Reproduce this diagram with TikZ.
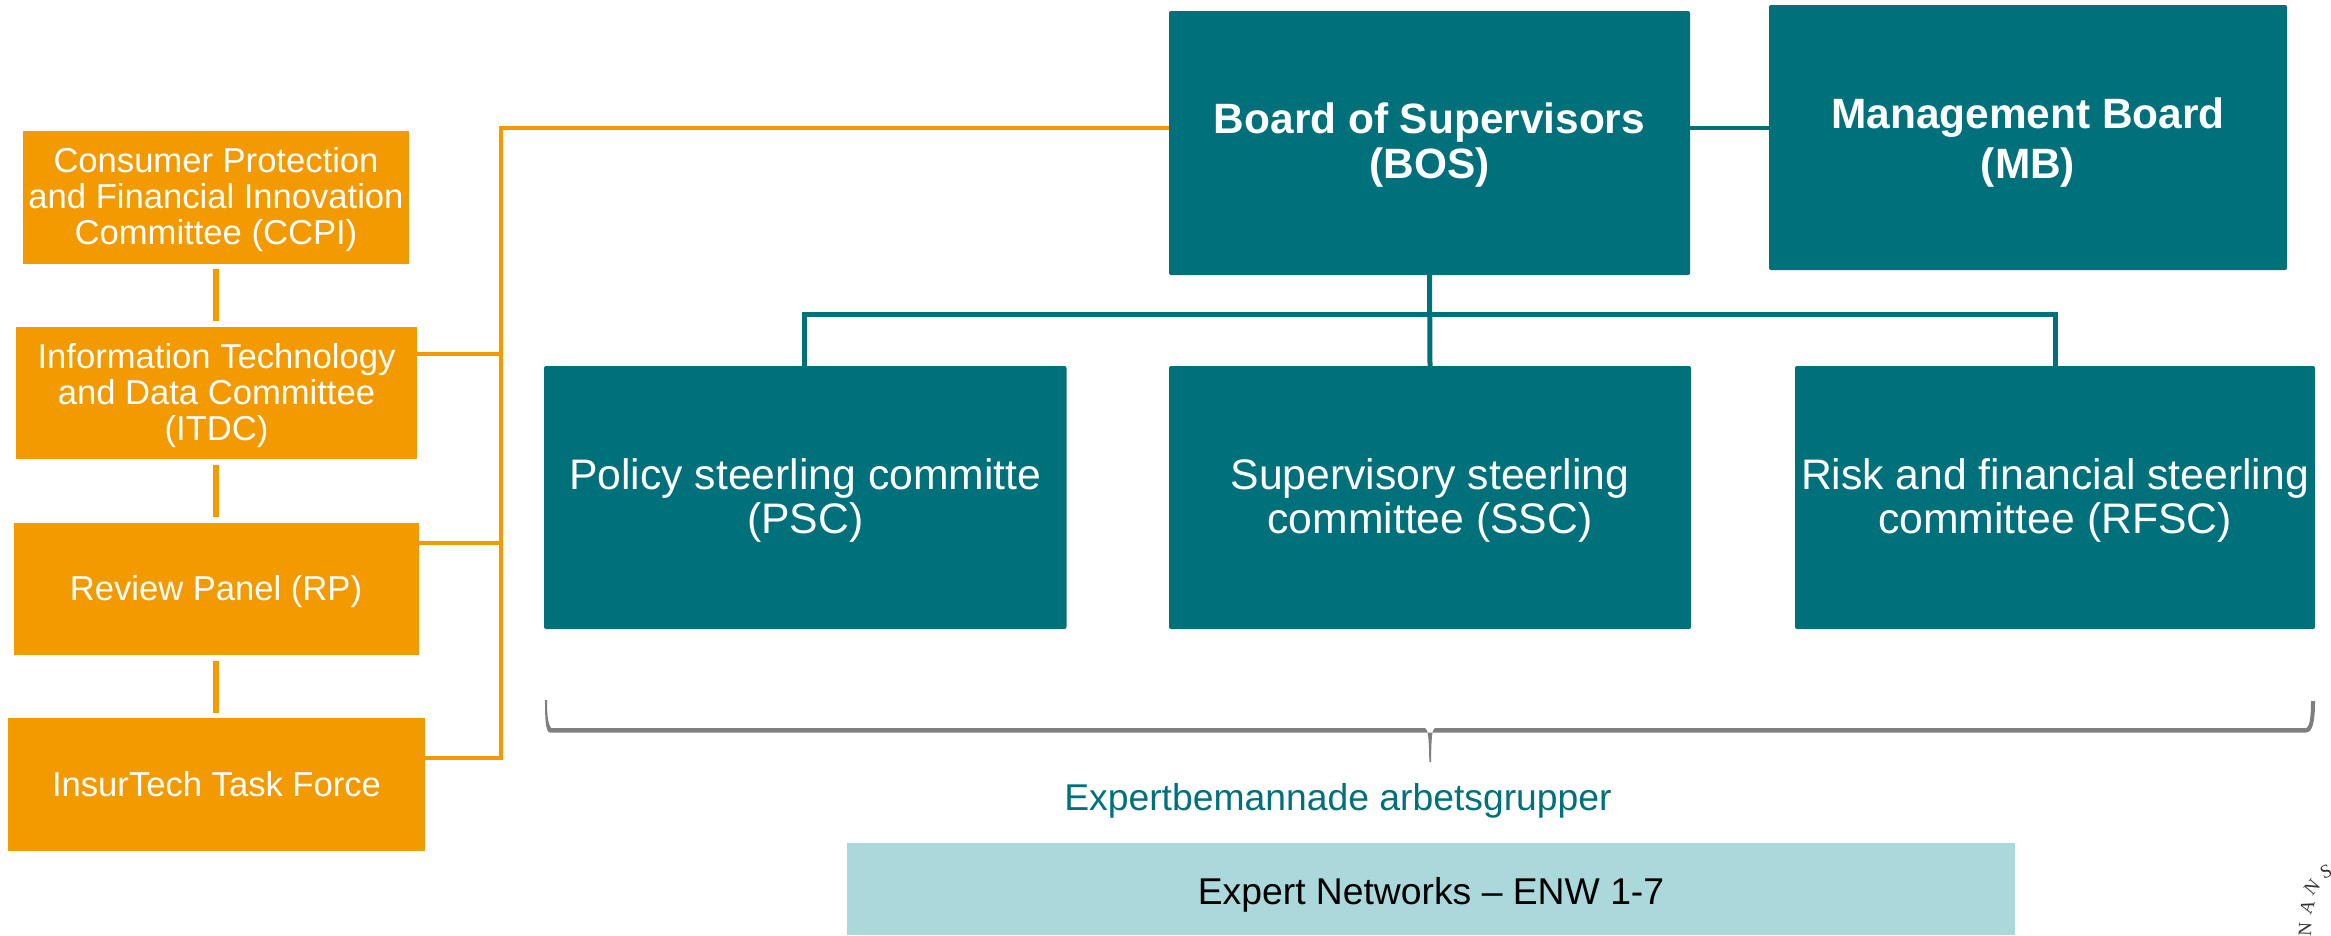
\documentclass[tikz,border=0pt]{standalone}
\usepackage{fontspec}
\setmainfont{Liberation Sans}
\newfontfamily\stampfont{Liberation Serif}
\definecolor{teal1}{HTML}{00707B}
\definecolor{orange1}{HTML}{F39A00}
\definecolor{pale1}{HTML}{ABD9DB}
\definecolor{gray1}{HTML}{7F7F7F}
\newcommand{\lbl}[5][]{\raisebox{#2pt}[0pt][0pt]{\fontsize{#3}{#4}\selectfont #1\begin{tabular}[t]{@{}c@{}}#5\end{tabular}}}
\begin{document}
\begin{tikzpicture}[x=1pt,y=-1pt,
  boxbase/.style={inner sep=0pt,outer sep=0pt,text=white,anchor=center},
  orangebox/.style={boxbase,fill=orange1},
  tealbox/.style={boxbase,fill=teal1,rounded corners=2pt},
  orangelink/.style={draw=orange1,line width=4pt},
  orangestub/.style={draw=orange1,line width=5.5pt},
  teallink/.style={draw=teal1,line width=4.5pt},
  treelink/.style={draw=teal1,line width=5pt},
  stampletter/.style={inner sep=0pt,text=black!80,font=\stampfont\fontsize{19}{19}\selectfont},
]
\useasboundingbox (0,0) rectangle (2331,935);
\newcommand{\bx}[7]{\node[#2,minimum width=#5pt-#3pt,minimum height=#6pt-#4pt] (#1) at ({(#3+#5)/2},{(#4+#6)/2}) {#7};}
\coordinate (spineT) at (501,128);
\coordinate (spineB) at (501,758);
\bx{ccpi}{orangebox}{23}{131}{409}{264}{\lbl{25}{34.6}{36}{Consumer Protection\\and Financial Innovation\\Committee (CCPI)}}
\bx{itdc}{orangebox}{16}{327}{417}{459}{\lbl{24.5}{34.6}{36}{Information Technology\\and Data Committee\\(ITDC)}}
\bx{rp}{orangebox}{13.5}{523}{418.5}{655}{\lbl{-11}{34.6}{36}{Review Panel (RP)}}
\bx{itf}{orangebox}{8}{718}{425}{851}{\lbl{-11.5}{34.6}{36}{InsurTech Task Force}}
\bx{bos}{tealbox}{1169}{11}{1690}{275}{\lbl[\bfseries]{10}{42.4}{45}{Board of Supervisors\\(BOS)}}
\bx{mb}{tealbox}{1769}{5}{2287}{270}{\lbl[\bfseries]{9.5}{42.4}{50}{Management Board\\(MB)}}
\bx{psc}{tealbox}{544}{366}{1066.5}{629}{\lbl{8.5}{42.7}{44}{Policy steerling committe\\(PSC)}}
\bx{ssc}{tealbox}{1169}{366}{1691}{629}{\lbl{8.5}{42.7}{44}{Supervisory steerling\\committee (SSC)}}
\bx{rfsc}{tealbox}{1795}{366}{2315}{629}{\lbl{8.5}{42.7}{44}{Risk and financial steerling\\committee (RFSC)}}
\bx{enw}{boxbase,fill=pale1,text=black}{847}{842.5}{2015}{935}{\lbl{-15.5}{37.3}{38}{Expert Networks – ENW 1-7}}
\node[inner sep=0pt,text=teal1] (expert) at (1338,810) {\lbl{0}{37.3}{38}{Expertbemannade arbetsgrupper}};
% orange connectors
\draw[orangestub] (216,269) coordinate (a1) -- (216,321) coordinate (a2);
\draw[orangestub] (216,465) coordinate (b1) -- (216,517) coordinate (b2);
\draw[orangestub] (216,661) coordinate (c1) -- (216,713) coordinate (c2);
\draw[orangelink,line join=miter] (itf.east |- spineB) -- (spineB) -- (spineT) -- (bos.west |- spineT);
\draw[orangelink] (itdc.east |- 0,354) -- (501,354);
\draw[orangelink] (rp.east |- 0,543) -- (501,543);
% teal connectors
\draw[teallink] (bos.east |- 0,128) -- (mb.west |- 0,128);
\draw[treelink] (bos.south) -- (ssc.north);
\draw[treelink] (804,366) -- (804,314) -- (2055,314) -- (2055,366);
% brace
\fill[gray1] (545,700) -- (547,700) .. controls (547,715) and (548,724) .. (551,728) -- (1425,728)
  .. controls (1428,729) and (1429,738) .. (1429.3,762) -- (1431,762) .. controls (1431.3,738) and (1432,729) .. (1435,728)
  -- (2306,728) .. controls (2310,727) and (2311,715) .. (2311,701) -- (2315,701)
  .. controls (2315,720) and (2313,732.5) .. (2306,732.5) -- (550,732.5)
  .. controls (546,732.5) and (545,722) .. (545,700) -- cycle;
% seal letters
\node[stampletter,rotate=25] (s1) at (2326,872) {S};
\node[stampletter,rotate=50] (s2) at (2312,887) {N};
\node[stampletter,rotate=72] (s3) at (2307,907) {A};
\node[stampletter,rotate=88] (s4) at (2305,929) {N};
\end{tikzpicture}
\end{document}
